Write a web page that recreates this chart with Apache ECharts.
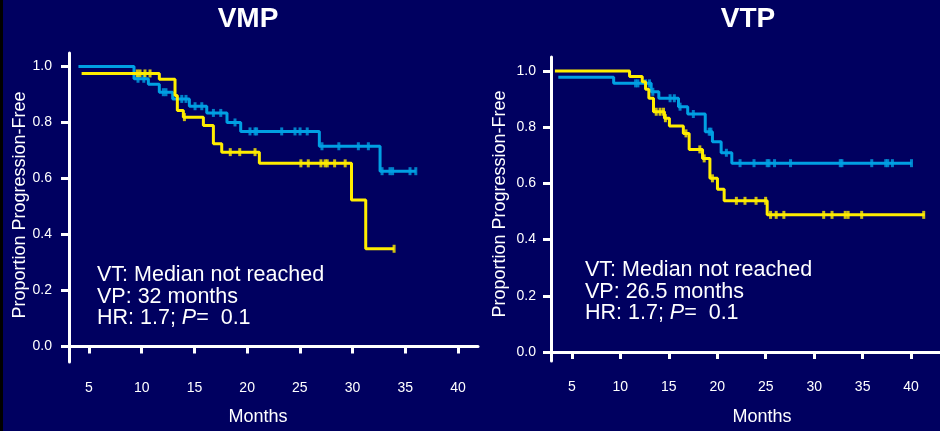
<!DOCTYPE html>
<html>
<head>
<meta charset="utf-8">
<script src="https://cdn.jsdelivr.net/npm/echarts@6/dist/echarts.min.js"></script>
<style>
  html, body { margin: 0; padding: 0; background: #000060; }
  #chart { width: 940px; height: 431px; }
</style>
</head>
<body>
<div id="chart"></div>
<script>
// Tick labels shared by both panels
const monthTicks = [5, 10, 15, 20, 25, 30, 35, 40];
const proportionTicks = [0, 0.2, 0.4, 0.6, 0.8, 1.0];

// VMP panel – VT arm (blue): step start times and survival levels
const vmpVtTimes = [4.0, 9.27, 10.63, 11.67, 12.94, 14.52, 16.17, 18.09, 19.39, 26.85, 32.61];
const vmpVtSurv  = [1.0, 0.956, 0.936, 0.908, 0.884, 0.858, 0.834, 0.800, 0.768, 0.715, 0.626];
const vmpVtEnd = 36.0;
const vmpVtCensor = [9.65, 10.2, 12.05, 12.3, 13.8, 14.2, 15.06, 15.7, 16.8, 17.5, 18.85,
  20.27, 20.75, 20.9, 23.28, 24.54, 25.02, 25.7, 27.1, 28.7, 30.55, 31.5,
  32.8, 33.55, 33.8, 35.45, 36.0];

// VMP panel – VP arm (yellow)
const vmpVpTimes = [4.3, 11.67, 13.16, 13.38, 13.95, 15.85, 16.8, 17.59, 21.16, 29.9, 31.25];
const vmpVpSurv  = [0.975, 0.954, 0.896, 0.843, 0.819, 0.789, 0.724, 0.694, 0.654, 0.523, 0.349];
const vmpVpEnd = 33.94;
const vmpVpCensor = [9.58, 9.84, 10.31, 10.79, 14.05, 18.4, 19.3, 20.75,
  25.1, 25.8, 27.0, 27.4, 27.6, 28.3, 29.3, 33.94];

// VTP panel – VT arm (blue)
const vtpVtTimes = [3.6, 9.31, 13.18, 13.97, 16.0, 16.95, 18.76, 19.5, 20.4, 21.5];
const vtpVtSurv  = [0.978, 0.956, 0.926, 0.903, 0.873, 0.847, 0.784, 0.748, 0.709, 0.672];
const vtpVtEnd = 40.04;
const vtpVtCensor = [11.57, 11.81, 12.6, 13.0, 13.35, 15.13, 15.57, 16.16, 17.53, 19.17, 19.34,
  20.94, 22.35, 23.79, 25.15, 25.33, 25.91, 27.56, 32.69, 32.86, 35.94, 37.38,
  37.59, 38.07, 40.04];

// VTP panel – VP arm (yellow)
const vtpVpTimes = [3.25, 10.95, 12.26, 12.6, 12.94, 13.42, 14.55, 15.06, 16.5, 17.1, 18.48,
  19.24, 20.02, 20.71, 25.15];
const vtpVpSurv  = [1.0, 0.98, 0.962, 0.935, 0.903, 0.855, 0.832, 0.804, 0.778, 0.721, 0.689,
  0.618, 0.579, 0.538, 0.488];
const vtpVpEnd = 41.4;
const vtpVpCensor = [13.7, 14.1, 14.45, 14.65, 16.77, 18.2, 18.65, 19.5, 21.97, 22.86, 24.0,
  24.99, 25.5, 26.08, 26.87, 30.98, 31.84, 33.2, 33.5, 34.9, 41.3];

const BLUE = '#00a0e3';
const YELLOW = '#ffed00';
const WHITE = '#ffffff';
const FONT = '"Liberation Sans", Arial, Helvetica, sans-serif';
const STATS_SIZE = 21.5;

// Kaplan–Meier step path: each level holds until the next event time
function stepData(times, surv, end) {
  const pts = times.map((t, i) => [t, surv[i]]);
  pts.push([end, surv[surv.length - 1]]);
  return pts;
}
// Survival level in force at time t
function levelAt(times, surv, t) {
  let v = surv[0];
  for (let i = 0; i < times.length; i++) if (times[i] <= t) v = surv[i];
  return v;
}
function censorData(times, surv, censor) {
  return censor.map(t => [t, levelAt(times, surv, t)]);
}

function curve(idx, times, surv, end, censor, color) {
  return [
    {
      type: 'line', xAxisIndex: idx, yAxisIndex: idx, step: 'end',
      data: stepData(times, surv, end), showSymbol: false,
      lineStyle: { color: color, width: 3 }, itemStyle: { color: color },
      silent: true
    },
    {
      type: 'scatter', xAxisIndex: idx, yAxisIndex: idx,
      data: censorData(times, surv, censor), symbol: 'rect', symbolSize: [3, 8],
      itemStyle: { color: color }, silent: true
    }
  ];
}

function xAxis(idx, min, max) {
  return {
    type: 'value', gridIndex: idx, min: min, max: max,
    axisLine: { show: true, lineStyle: { color: WHITE, width: 3 } },
    axisTick: { show: true, customValues: monthTicks, length: 7, lineStyle: { color: WHITE, width: 3 } },
    axisLabel: { customValues: monthTicks, color: WHITE, fontSize: 14, fontFamily: FONT, margin: 19 },
    splitLine: { show: false }
  };
}
function yAxis(idx, min, max, margin) {
  return {
    type: 'value', gridIndex: idx, min: min, max: max,
    axisLine: { show: true, lineStyle: { color: WHITE, width: 3 } },
    axisTick: { show: true, customValues: proportionTicks, length: 8, lineStyle: { color: WHITE, width: 3 } },
    axisLabel: { customValues: proportionTicks, color: WHITE, fontSize: 14, fontFamily: FONT, margin: margin,
      formatter: v => v.toFixed(1) },
    splitLine: { show: false }
  };
}

function label(x, y, text, size, extra) {
  return Object.assign({
    type: 'text', x: x, y: y, silent: true,
    style: Object.assign({ text: text, fill: WHITE, fontSize: size, fontFamily: FONT,
      textAlign: 'left', textVerticalAlign: 'middle' }, (extra && extra.style) || {})
  }, extra && extra.rotation !== undefined ? { rotation: extra.rotation } : {});
}
function statsBlock(x, y0, gap, medianVP) {
  return [
    label(x, y0, 'VT: Median not reached', STATS_SIZE),
    label(x, y0 + gap, 'VP: ' + medianVP, STATS_SIZE),
    {
      type: 'text', x: x, y: y0 + 2 * gap, silent: true,
      style: {
        text: '{n|HR: 1.7; }{i|P}{n|=  0.1}', textVerticalAlign: 'middle',
        rich: {
          n: { fill: WHITE, fontSize: STATS_SIZE, fontFamily: FONT },
          i: { fill: WHITE, fontSize: STATS_SIZE, fontFamily: FONT, fontStyle: 'italic' }
        }
      }
    }
  ];
}

const centered = { style: { textAlign: 'center' } };
const bold = { style: { textAlign: 'center', fontWeight: 'bold' } };
const vertical = { rotation: Math.PI / 2, style: { textAlign: 'center' } };

const chart = echarts.init(document.getElementById('chart'), null, { renderer: 'canvas' });
chart.setOption({
  backgroundColor: '#000060',
  animation: false,
  grid: [
    { left: 69, top: 53, width: 409, height: 309 },
    { left: 551, top: 57, width: 391, height: 304 }
  ],
  xAxis: [xAxis(0, 3.103, 41.9), xAxis(1, 2.845, 42.98)],
  yAxis: [yAxis(0, -0.0554, 1.048, 17), yAxis(1, -0.032, 1.0498, 15)],
  series: [].concat(
    curve(0, vmpVtTimes, vmpVtSurv, vmpVtEnd, vmpVtCensor, BLUE),
    curve(0, vmpVpTimes, vmpVpSurv, vmpVpEnd, vmpVpCensor, YELLOW),
    curve(1, vtpVtTimes, vtpVtSurv, vtpVtEnd, vtpVtCensor, BLUE),
    curve(1, vtpVpTimes, vtpVpSurv, vtpVpEnd, vtpVpCensor, YELLOW)
  ),
  graphic: [
    { type: 'rect', shape: { x: 0, y: 0, width: 3, height: 431 }, style: { fill: '#000000' }, silent: true },
    label(248, 19, 'VMP', 28, bold),
    label(748, 19, 'VTP', 28, bold),
    label(258, 417, 'Months', 18, centered),
    label(762, 417, 'Months', 18, centered),
    label(20, 205, 'Proportion Progression-Free', 18, vertical),
    label(500, 204, 'Proportion Progression-Free', 18, vertical)
  ].concat(
    statsBlock(97, 275.3, 21.6, '32 months'),
    statsBlock(585, 270, 21.6, '26.5 months')
  )
});
</script>
</body>
</html>
